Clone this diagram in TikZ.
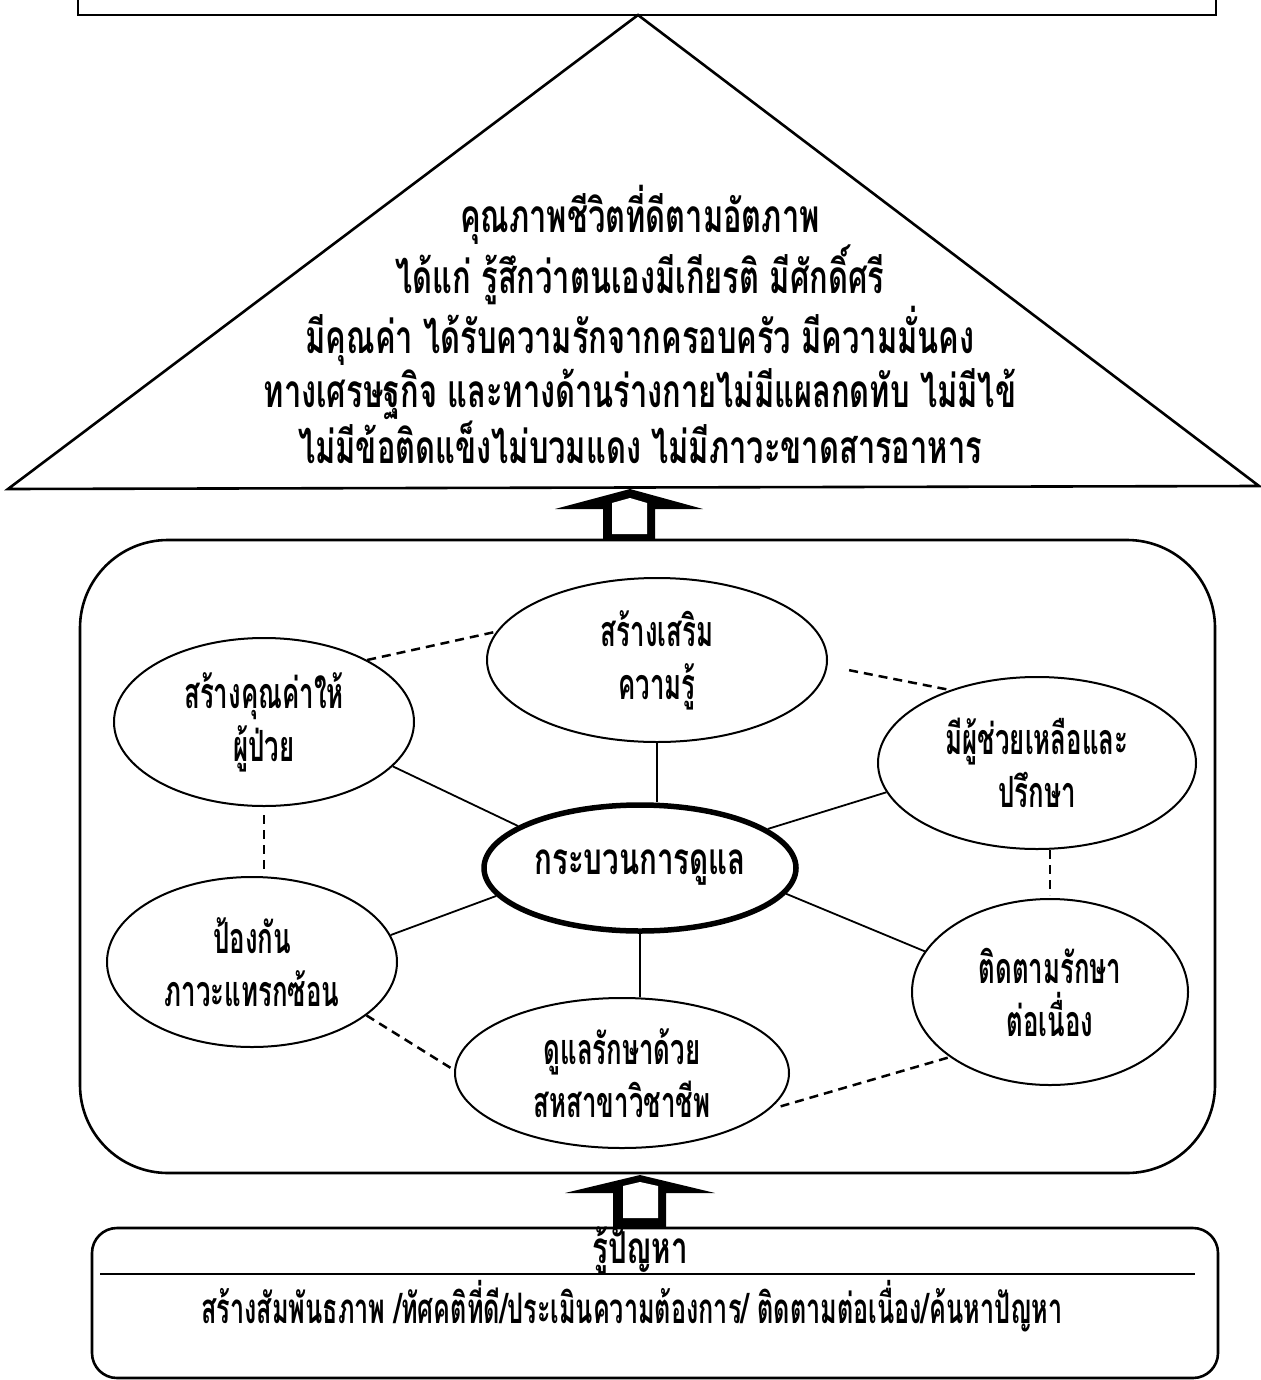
\documentclass[tikz,border=0pt]{standalone}
\usepackage{fontspec}
\newfontfamily\thaiW[Script=Thai,FakeStretch=0.67]{Loma}
\newfontfamily\thaiN[Script=Thai,FakeStretch=0.6]{Loma}
\usetikzlibrary{shapes.geometric}
\begin{document}
\begin{tikzpicture}[x=1pt,y=-1pt,
  every node/.style={align=center, inner sep=0pt},
  bigtext/.style={font=\thaiW\bfseries\fontsize{46}{54}\selectfont},
  hubtext/.style={font=\thaiW\bfseries\fontsize{44}{53}\selectfont},
  smalltext/.style={font=\thaiN\bfseries\fontsize{43}{53}\selectfont},
  linetext/.style={font=\thaiN\bfseries\fontsize{42}{53}\selectfont},
  bubble/.style={ellipse, draw, line width=2pt, smalltext},
  hub/.style={ellipse, draw, line width=5.5pt, hubtext},
  link/.style={line width=1.8pt},
  dlink/.style={line width=2.5pt, dash pattern=on 9pt off 6pt},
  frame/.style={line width=2.6pt},
  arrowbody/.style={fill=black},
  arrowhole/.style={fill=white}]
\useasboundingbox (0,0) rectangle (1260,1380);

% top box (only lower part visible)
\coordinate (tbl) at (78,-10);
\coordinate (tbr) at (1216,-10);
\draw[frame] (tbl) -- (78,15) -- (1216,15) -- (tbr);

% triangle
\coordinate (apex) at (638,15);
\coordinate (tl) at (8,489);
\coordinate (tr) at (1259,486);
\draw[frame] (tl) -- (apex) -- (tr) -- cycle;
\node[bigtext] (goal) at (640,324) {คุณภาพชีวิตที่ดีตามอัตภาพ\\
ได้แก่ รู้สึกว่าตนเองมีเกียรติ มีศักดิ์ศรี\\
มีคุณค่า ได้รับความรักจากครอบครัว มีความมั่นคง\\
ทางเศรษฐกิจ และทางด้านร่างกายไม่มีแผลกดทับ ไม่มีไข้\\
ไม่มีข้อติดแข็งไม่บวมแดง ไม่มีภาวะขาดสารอาหาร};

% main rounded box
\node[draw, frame, rounded corners=88pt, minimum width=1135pt, minimum height=633pt] (main) at (647.5,856.5) {};

% upper arrow
\fill[arrowbody] (630,489) -- (703,509) -- (655,509) -- (655,540) -- (603,540) -- (603,509) -- (555,509) -- cycle;
\fill[arrowhole] (612,503) -- (630,498) -- (647,503) -- (647,534) -- (612,534) -- cycle;

% ellipses
\node[bubble, minimum width=340pt, minimum height=164pt] (t) at (657,660) {สร้างเสริม\\ความรู้};
\node[bubble, minimum width=300pt, minimum height=168pt] (ul) at (264,722) {สร้างคุณค่าให้\\ผู้ป่วย};
\node[bubble, minimum width=318pt, minimum height=172pt] (ur) at (1037,763) {มีผู้ช่วยเหลือและ\\ปรึกษา};
\node[hub, minimum width=312pt, minimum height=126pt] (c) at (640,868) {กระบวนการดูแล};
\node[bubble, minimum width=290pt, minimum height=170pt] (ll) at (252,962) {ป้องกัน\\ภาวะแทรกซ้อน};
\node[bubble, minimum width=334pt, minimum height=150pt] (b) at (622,1073) {ดูแลรักษาด้วย\\สหสาขาวิชาชีพ};
\node[bubble, minimum width=276pt, minimum height=186pt] (lr) at (1050,992) {ติดตามรักษา\\ต่อเนื่อง};

% solid links
\draw[link] (t.south) -- (t.south |- c.north);
\draw[link] (ul.-19) -- (c.161);
\draw[link] (c.17) -- (ur.191);
\draw[link] (ll.11) -- (c.191);
\draw[link] (c.south) -- (c.south |- b.north);
\draw[link] (c.-10) -- (lr.162);

% dashed links
\draw[dlink] (ul.31) -- (t.170);
\draw[dlink, shorten <=22pt] (t.-2) -- (ur.140);
\draw[dlink, shorten <=8pt, shorten >=3pt] (ul.south) -- (ul.south |- ll.north);
\draw[dlink, shorten >=3pt] (lr.north |- ur.south) -- (lr.north);
\draw[dlink] (ll.-25) -- (b.179);
\draw[dlink, shorten <=12pt] (b.-14) -- (lr.213);

% lower arrow
\fill[arrowbody] (640,1175) -- (715,1193) -- (666,1193) -- (666,1228) -- (613,1228) -- (613,1193) -- (565,1193) -- cycle;
\fill[arrowhole] (623,1186) -- (640,1182) -- (658,1186) -- (658,1218) -- (623,1218) -- cycle;

% bottom box
\node[draw, frame, rounded corners=25pt, minimum width=1126pt, minimum height=150pt] (prob) at (655,1303) {};
\node[hubtext] (probt) at (640,1251) {รู้ปัญหา};
\coordinate (dl) at (100,1274);
\coordinate (dr) at (1195,1274);
\draw[frame] (dl) -- (dr);
\node[linetext] (probs) at (632,1306) {สร้างสัมพันธภาพ /ทัศคติที่ดี/ประเมินความต้องการ/ ติดตามต่อเนื่อง/ค้นหาปัญหา};
\end{tikzpicture}
\end{document}
